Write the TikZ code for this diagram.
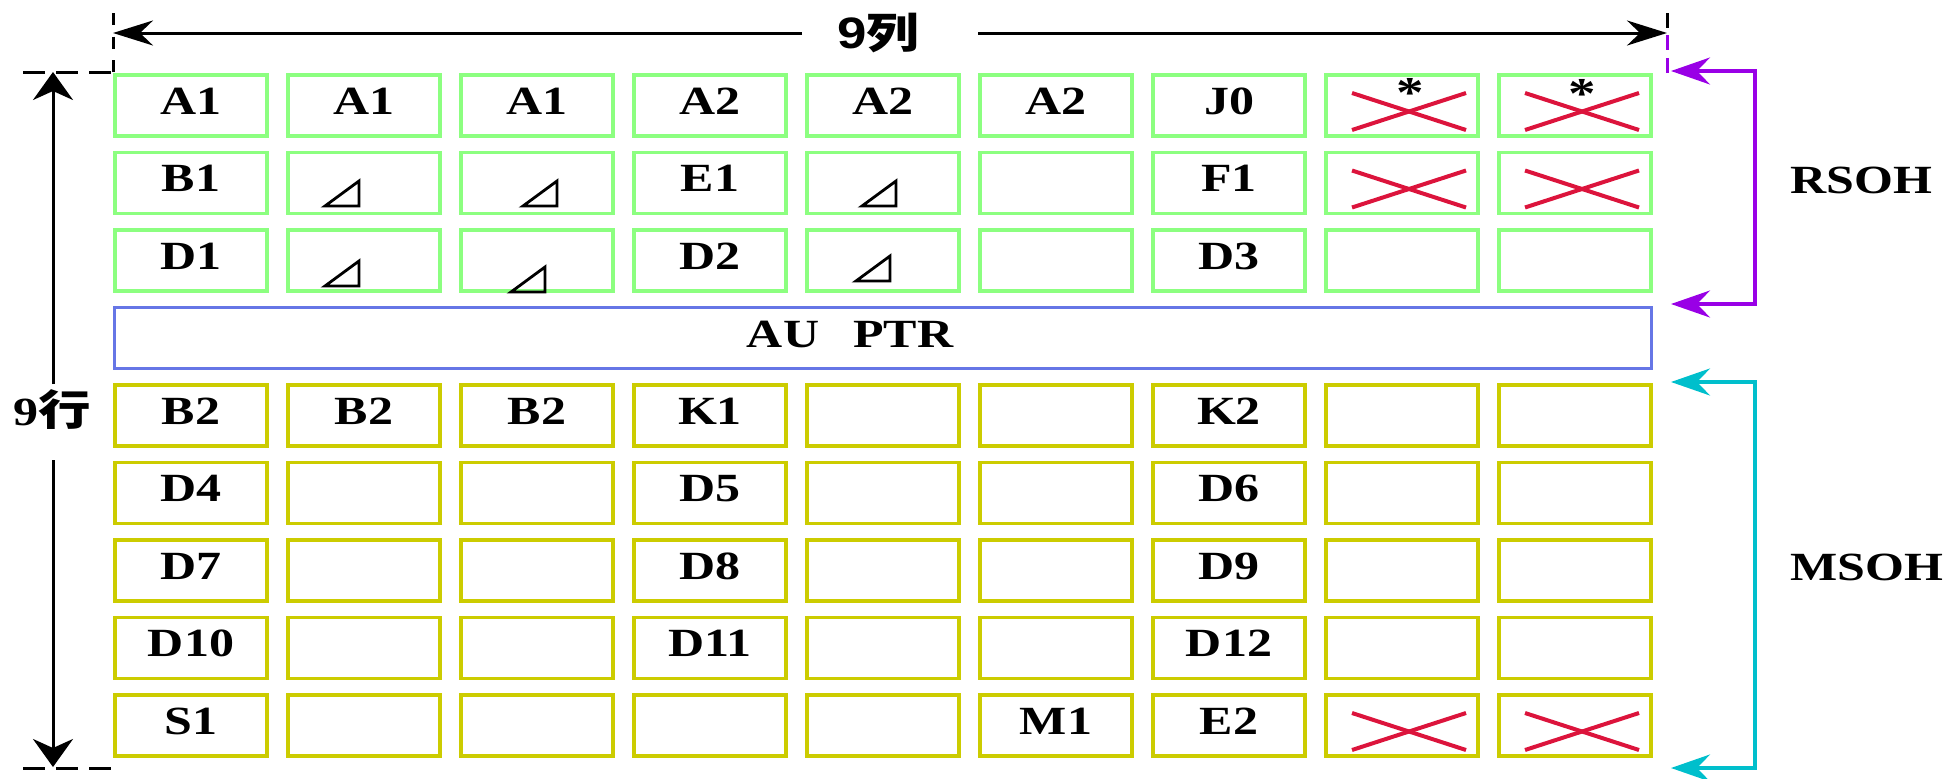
\documentclass[tikz,border=0pt]{standalone}
\usepackage{fontspec}
\setmainfont{Liberation Serif}[FakeStretch=1.25]
\newfontfamily\sansbf{Liberation Sans}[FakeStretch=1.2]
\newfontfamily\cjkf{Noto Sans CJK SC}[FakeStretch=1.25]
\usetikzlibrary{arrows.meta}
\definecolor{cgreen}{HTML}{8CFF80}
\definecolor{cyellow}{HTML}{CCCC00}
\definecolor{cblue}{HTML}{6676E6}
\definecolor{cred}{HTML}{DC143C}
\definecolor{cpurple}{HTML}{9900E6}
\definecolor{ccyan}{HTML}{00BFCC}
\tikzset{
  bigfont/.style={font=\bfseries\fontsize{40pt}{44pt}\selectfont},
  cellbox/.style={draw, line width=3.5pt, minimum width=152pt, minimum height=61pt,
    inner sep=0pt, bigfont, text height=26pt, text depth=9pt},
  cellG/.style={cellbox, draw=cgreen},
  cellY/.style={cellbox, draw=cyellow},
  tri/.style={draw=black, line width=2.8pt, line join=miter},
  xline/.style={draw=cred, line width=4pt},
  blk/.style={draw=black, line width=3pt},
  hTip/.style={-{Stealth[length=40pt,width=25pt,inset=13pt]}},
  vTip/.style={-{Stealth[length=28pt,width=40pt,inset=9pt]}},
  brk/.style={line width=3.5pt, {Stealth[length=39pt,width=27pt,inset=13pt]}-{Stealth[length=39pt,width=27pt,inset=13pt]}},
  lbl/.style={inner sep=0pt, bigfont},
}
\begin{document}
\begin{tikzpicture}[x=1pt,y=-1pt]
\useasboundingbox (0,0) rectangle (1952,779);

% upper (RSOH) cells
\foreach \ri/\labs in {0/{A1,A1,A1,A2,A2,A2,J0,{},{}},1/{B1,{},{},E1,{},{},F1,{},{}},2/{D1,{},{},D2,{},{},D3,{},{}}}{
  \foreach \lab [count=\ci from 0] in \labs {
    \node[cellG] (c-\ri-\ci) at ({191+173*\ci},{105.5+77.5*\ri}) {\lab};
  }
}
% lower (MSOH) cells
\foreach \ri/\labs in {4/{B2,B2,B2,K1,{},{},K2,{},{}},5/{D4,{},{},D5,{},{},D6,{},{}},6/{D7,{},{},D8,{},{},D9,{},{}},7/{D10,{},{},D11,{},{},D12,{},{}},8/{S1,{},{},{},{},M1,E2,{},{}}}{
  \foreach \lab [count=\ci from 0] in \labs {
    \node[cellY] (c-\ri-\ci) at ({191+173*\ci},{105.5+77.5*\ri}) {\lab};
  }
}

% AU PTR
\node[draw=cblue, line width=3pt, minimum width=1537pt, minimum height=61pt, inner sep=0pt] (aup) at (883,338) {};
\node[lbl] (aupT) at (850,334.5) {AU\hspace{34pt}PTR};

% triangles
\draw[tri] (325,206) -- ++(34,0) -- ++(0,-25) -- cycle;
\draw[tri] (523,206) -- ++(34,0) -- ++(0,-25) -- cycle;
\draw[tri] (862,206) -- ++(34,0) -- ++(0,-25) -- cycle;
\draw[tri] (325,286) -- ++(34,0) -- ++(0,-25) -- cycle;
\draw[tri] (511,292) -- ++(34,0) -- ++(0,-25) -- cycle;
\draw[tri] (856,281) -- ++(34,0) -- ++(0,-25) -- cycle;

% crosses
\foreach \ri/\ci in {0/7,0/8,1/7,1/8,8/7,8/8}{
  \draw[xline] ([shift={(-50,-12.5)}]c-\ri-\ci.center) -- ([shift={(64,24.5)}]c-\ri-\ci.center);
  \draw[xline] ([shift={(-50,24.5)}]c-\ri-\ci.center) -- ([shift={(64,-12.5)}]c-\ri-\ci.center);
}
% asterisks
\node[inner sep=0pt, anchor=base, font=\bfseries\fontsize{44pt}{48pt}\selectfont] (ast1) at ([shift={(8,1.5)}]c-0-7.center) {*};
\node[inner sep=0pt, anchor=base, font=\bfseries\fontsize{44pt}{48pt}\selectfont] (ast2) at ([shift={(7,3)}]c-0-8.center) {*};

% top dimension: 9 columns
\node[inner sep=0pt] (colT) at (878,33) {{\sansbf\bfseries\fontsize{44pt}{48pt}\selectfont 9}{\cjkf\bfseries\fontsize{42pt}{46pt}\selectfont 列}};
\coordinate (gapL) at (802,33);
\coordinate (gapR) at (978,33);
\coordinate (hL) at (113,33);
\coordinate (hR) at (1667,33);
\draw[blk, hTip] (gapL) -- (hL);
\draw[blk, hTip] (gapR) -- (hR);

% left dimension: 9 rows
\node[inner sep=0pt] (rowT) at (52,410) {{\bfseries\fontsize{40pt}{44pt}\selectfont 9}{\cjkf\bfseries\fontsize{42pt}{46pt}\selectfont 行}};
\coordinate (gapT) at (53,384);
\coordinate (gapB) at (53,460);
\coordinate (vT) at (53,72);
\coordinate (vB) at (53,767);
\draw[blk, vTip] (gapT) -- (vT);
\draw[blk, vTip] (gapB) -- (vB);

% dashed extension lines
\draw[blk, dash pattern=on 12pt off 11.5pt] (113,13) -- (113,72);
\draw[blk, dash pattern=on 22pt off 11pt] (23,72) -- (113,72);
\draw[blk, dash pattern=on 22pt off 11pt] (23,768) -- (113,768);
\draw[blk] (1667,13) -- (1667,28);
\draw[draw=cpurple, line width=3pt, dash pattern=on 15pt off 8pt] (1667,35) -- (1667,73);

% RSOH bracket
\coordinate (rsA) at (1671,71);
\coordinate (rsB) at (1671,304);
\draw[brk, draw=cpurple] (rsA) -- ++(84,0) |- (rsB);
\node[lbl, anchor=west] (rsoh) at (1790,180) {RSOH};

% MSOH bracket
\coordinate (msA) at (1671,382);
\coordinate (msB) at (1671,768);
\draw[brk, draw=ccyan] (msA) -- ++(84,0) |- (msB);
\node[lbl, anchor=west] (msoh) at (1790,567) {MSOH};
\end{tikzpicture}
\end{document}
